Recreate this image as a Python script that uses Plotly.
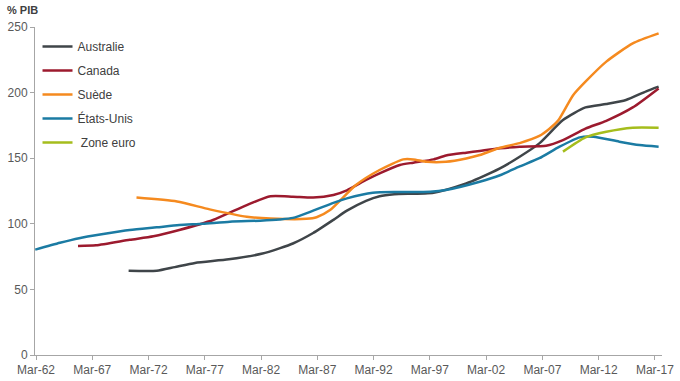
import plotly.graph_objects as go

# Data (decimal years, % of GDP)
us_x = [1962.1, 1964.3, 1966.0, 1968.0, 1970.5, 1972.9, 1974.9, 1977.0, 1979.4, 1982.1, 1983.8, 1985.0,
        1986.8, 1988.6, 1989.8, 1992.1, 1994.5, 1997.2, 1998.6, 2001.6, 2003.4, 2005.15, 2006.9,
        2008.7, 2010.5, 2011.7, 2014.0, 2015.8, 2017.5]
us_y = [80.3, 85.5, 89, 92, 95.3, 97.3, 99, 100, 101.6, 102.4, 103.3, 104.5,
        110, 116, 119.4, 123.7, 124.2, 124.5, 125.8, 132.1, 137, 143.7, 150,
        158.8, 165.9, 166.4, 162.6, 160, 158.8]

aus_x = [1970.4, 1972.9, 1974.5, 1976.3, 1979.3, 1982.3, 1983.8, 1985.0, 1986.8, 1988.6, 1989.8, 1991.5,
         1992.7, 1994.0, 1997.5, 2000.4, 2001.6, 2003.4, 2005.15, 2006.9, 2009.0, 2011.0, 2012.85,
         2014.6, 2016.4, 2017.5]
aus_y = [64.2, 64.2, 67, 70.2, 72.9, 77.3, 81.3, 85, 93, 103, 110, 117.5,
         121, 122.5, 123.7, 130.8, 135, 142.2, 151.1, 161.3, 179.1, 188.7, 191.3,
         194.4, 201, 204.5]

can_x = [1965.9, 1967.5, 1970.5, 1972.6, 1974.9, 1977.9, 1980.9, 1983.0, 1985.0, 1986.8, 1988.6, 1989.8,
         1991.5, 1992.7, 1994.5, 1995.7, 1997.5, 1998.6, 2000.4, 2001.6, 2003.4, 2005.15, 2007.5,
         2009.0, 2011.0, 2012.85, 2015.2, 2017.5]
can_y = [83.1, 83.6, 87.8, 90.5, 95.3, 102.9, 114.3, 121, 120.7, 120, 122, 125.5,
         133.4, 138.4, 144.8, 146.6, 149.1, 152, 154.2, 155.5, 157.5, 158.8, 159.5,
         163.8, 172.5, 178.5, 188.7, 203.2]

swe_x = [1971.1, 1974.7, 1977.6, 1980.9, 1983.0, 1986.2, 1987.1, 1988.3, 1990.6, 1992.7, 1994.8, 1995.7,
         1996.9, 1998.6, 2000.4, 2001.6, 2003.4, 2005.15, 2006.9, 2007.8, 2008.6, 2009.9, 2011.0,
         2012.85, 2015.2, 2017.5]
swe_y = [120, 117, 111, 105.4, 104, 103.8, 105, 110.5, 129.6, 141, 149.1, 149.1,
         147.3, 147.3, 149.8, 152.4, 158, 161.5, 167, 172.5, 179, 198, 208.3,
         223.6, 237.5, 245.1]

eur_x = [2009.0, 2011.0, 2012.85, 2015.2, 2017.5]
eur_y = [155, 165.9, 170.2, 173.3, 173.3]

tick_years = [1962, 1967, 1972, 1977, 1982, 1987, 1992, 1997, 2002, 2007, 2012, 2017]
tick_labels = ["Mar-62", "Mar-67", "Mar-72", "Mar-77", "Mar-82", "Mar-87",
               "Mar-92", "Mar-97", "Mar-02", "Mar-07", "Mar-12", "Mar-17"]
y_ticks = [0, 50, 100, 150, 200, 250]

series = [
    ("Australie", aus_x, aus_y, "#3f4549"),
    ("Canada", can_x, can_y, "#9c1a2e"),
    ("Suède", swe_x, swe_y, "#f58a1f"),
    ("États-Unis", us_x, us_y, "#1b7ba3"),
    (" Zone euro", eur_x, eur_y, "#a5bd1c"),
]

fig = go.Figure()
for name, xs, ys, col in series:
    fig.add_trace(go.Scatter(
        x=xs, y=ys, mode="lines", name=name, legendgroup=name,
        line=dict(color=col, width=2.5, shape="spline", smoothing=0.6),
    ))

font = "Liberation Sans, Arial, sans-serif"
fig.update_layout(
    width=680, height=381,
    margin=dict(l=35, r=18, t=27, b=26),
    paper_bgcolor="white", plot_bgcolor="white",
    font=dict(family=font, size=12, color="#595959"),
    showlegend=True,
    legend=dict(x=0.004, y=0.985, xanchor="left", yanchor="top",
                bgcolor="rgba(0,0,0,0)", traceorder="grouped", tracegroupgap=5,
                font=dict(family=font, size=12, color="#404040")),
    xaxis=dict(range=[1962.08, 2017.8], tickmode="array", automargin=False,
               tickvals=[y + 0.17 for y in tick_years], ticktext=tick_labels,
               showgrid=False, zeroline=False, showline=True, linecolor="#a6a6a6",
               linewidth=1, ticks="outside", ticklen=4, tickcolor="#a6a6a6",
               tickfont=dict(size=12, color="#595959")),
    yaxis=dict(range=[0, 250], tickmode="array", tickvals=y_ticks, automargin=False,
               showgrid=False, zeroline=False, showline=True, linecolor="#a6a6a6",
               linewidth=1, ticks="outside", ticklen=4, tickcolor="#a6a6a6",
               tickfont=dict(size=12, color="#595959")),
    annotations=[dict(text="<b>% PIB</b>", xref="paper", yref="paper",
                      x=-0.048, y=1.052, xanchor="left", yanchor="middle",
                      showarrow=False, font=dict(size=11, color="#404040"))],
)

fig.write_html("out.html", config={"displayModeBar": False},
               post_script="document.body.style.margin='0';")
